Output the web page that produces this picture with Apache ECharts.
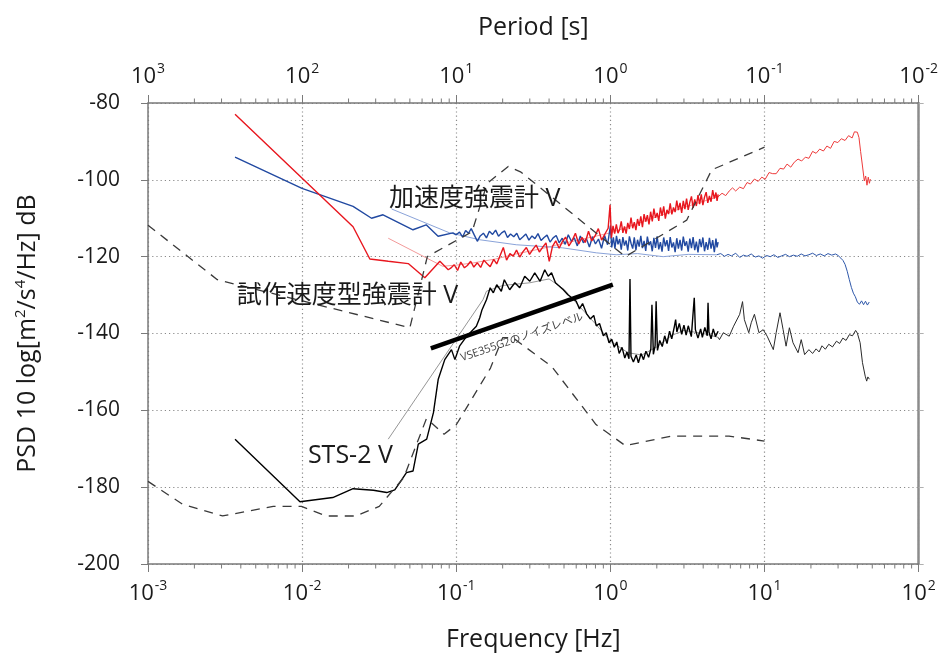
<!DOCTYPE html>
<html>
<head>
<meta charset="utf-8">
<script src="https://cdn.jsdelivr.net/npm/echarts@6/dist/echarts.min.js"></script>
<style>
html,body{margin:0;padding:0;background:#fff;}
#chart{width:941px;height:657px;}
</style>
</head>
<body>
<div id="chart"></div>
<script>
// ---------------- DATA (frequency [Hz], PSD dB) ----------------
const freqMin = 1e-3, freqMax = 1e2;
const periodMin = 1e-2, periodMax = 1e3;
const dbMin = -200, dbMax = -80, dbStep = 20;

// Peterson high noise model (upper dashed)
const nhnm = [[0.001,-111.8],[0.002818,-126.0],[0.05,-138.5],[0.0649,-120.0],[0.1266,-113.5],[0.1587,-100.9],[0.2174,-96.5],[0.2632,-98.0],[1.25,-120.0],[3.125,-110.5],[4.545,-97.4],[10,-91.5]];
// Peterson low noise model (lower dashed)
const nlnm = [[0.001,-178.5],[0.001667,-184.4],[0.003049,-187.5],[0.006494,-185.0],[0.0099,-185.0],[0.01429,-187.5],[0.02222,-187.5],[0.03165,-185.0],[0.04566,-177.5],[0.0641,-162.1],[0.0833,-166.2],[0.1,-163.75],[0.1667,-149.0],[0.2,-141.1],[0.2326,-141.1],[0.4167,-148.6],[0.8065,-163.7],[1.25,-169.2],[2.5,-166.7],[5.882,-166.7],[10,-168.0]];

// 試作速度型強震計 V (red)
const redDark = [[0.00367,-82.9],[0.0214,-112.2],[0.0275,-120.6],[0.0362,-121.2],[0.0488,-121.8],[0.0625,-125.5],[0.0783,-121.2],[0.0887,-123.4],
[0.092,-123.0],[0.097,-122.1],[0.102,-123.6],[0.107,-121.4],[0.113,-122.9],[0.118,-122.3],[0.124,-121.2],[0.130,-122.7],[0.137,-121.6],[0.144,-122.8],[0.151,-120.9],[0.158,-121.8],[0.166,-122.6],[0.175,-120.7],[0.183,-121.9],[0.192,-119.8],[0.202,-117.6],[0.212,-120.9],[0.223,-119.2],[0.234,-119.9],[0.246,-118.3],[0.258,-120.1],[0.271,-118.7],[0.285,-117.6],[0.299,-119.4],[0.314,-118.1],[0.33,-117.0],[0.346,-118.8],[0.364,-117.5],[0.382,-116.4],[0.401,-121.2],[0.421,-117.3],[0.442,-115.9],[0.465,-117.8],[0.488,-116.1],[0.512,-114.9],[0.538,-117.2],[0.565,-115.8],[0.593,-113.9],[0.623,-116.7],[0.654,-115.0],[0.687,-116.3],[0.721,-113.4],[0.757,-115.9],[0.795,-114.6],[0.835,-112.7],[0.877,-115.7],[0.921,-114.1],[0.967,-112.6],[0.995,-106.5],
[1.015,-115.1],[1.04,-112.0],[1.066,-114.0],[1.093,-111.6],[1.12,-113.9],[1.148,-112.9],[1.176,-110.8],[1.205,-113.8],[1.234,-112.1],[1.265,-114.0],[1.296,-111.2],[1.328,-112.8],[1.361,-109.8],[1.395,-112.6],[1.429,-111.0],[1.464,-113.1],[1.5,-110.2],[1.537,-112.0],[1.575,-109.5],[1.614,-112.3],[1.654,-108.9],[1.695,-110.9],[1.737,-109.2],[1.78,-111.6],[1.824,-108.3],[1.869,-110.8],[1.915,-107.5],[1.962,-109.9],[2.011,-108.6],[2.06,-110.7],[2.111,-107.2],[2.163,-109.4],[2.217,-106.9],[2.272,-110.1],[2.328,-107.8],[2.385,-108.9],[2.444,-106.1],[2.504,-109.0],[2.566,-107.2],[2.63,-108.4],[2.695,-105.4],[2.761,-107.9],[2.83,-106.0],[2.9,-108.6],[2.971,-105.5],[3.044,-107.6],[3.12,-104.9],[3.197,-107.8],[3.276,-105.8],[3.357,-104.3],[3.44,-107.3],[3.525,-105.1],[3.612,-106.8],[3.701,-104.0],[3.792,-106.3],[3.886,-103.8],[3.982,-106.6],[4.08,-104.5],[4.181,-103.2],[4.284,-106.0],[4.39,-104.2],[4.498,-105.7],[4.61,-102.7],[4.724,-104.9],[4.84,-103.3],[4.92,-105.5],[5.0,-103.8]];
const redSmooth = [[0.0362,-115.2],[0.0816,-122.5],[0.1,-122.2],[0.13,-121.6],[0.18,-120.6],[0.25,-119.2],[0.35,-118.0],[0.5,-116.5],[0.7,-115.2],[1.0,-113.8],[1.4,-111.8],[2.0,-109.6],[3.0,-107.2],[4.0,-105.6],[5.0,-104.4]];
const redHigh = [[5.0,-104.4],[5.3,-103.5],[5.6,-104.1],[5.9,-102.9],[6.2,-102.1],[6.5,-102.9],[6.9,-101.9],[7.3,-102.3],[7.7,-100.7],[8.1,-101.1],[8.6,-99.8],[9.1,-100.4],[9.6,-99.3],[10.1,-99.85],[10.7,-98.1],[11.3,-98.4],[11.9,-98.4],[12.6,-97.0],[13.3,-97.2],[14.0,-95.9],[14.8,-96.7],[15.6,-95.4],[16.5,-94.6],[17.4,-95.1],[18.4,-94.1],[19.4,-94.4],[20.5,-92.6],[21.6,-93.1],[22.8,-92.0],[24.1,-92.5],[25.4,-91.2],[26.8,-91.8],[28.3,-90.0],[29.9,-90.3],[31.5,-89.3],[33.3,-89.75],[35.1,-88.5],[37.0,-89.1],[38.3,-87.5],[39.3,-88.0],[40.0,-87.6],[41.0,-89.0],[42.0,-92.6],[43.2,-96.4],[44.4,-100.3],[45.3,-99.0],[46.2,-101.4],[47.1,-99.3],[47.9,-100.9],[48.6,-99.8]];

// 加速度強震計 V (blue)
const blueDark = [[0.00367,-94.1],[0.00998,-102.2],[0.0214,-106.9],[0.0282,-110.0],[0.0335,-109.1],[0.0524,-113.0],[0.0638,-111.7],[0.0762,-114.7],[0.0951,-113.8],
[0.1,-114.3],[0.105,-113.6],[0.11,-114.9],[0.115,-113.2],[0.12,-113.9],[0.125,-112.7],[0.131,-114.4],[0.137,-116.0],[0.143,-114.6],[0.15,-113.9],[0.157,-115.1],[0.164,-113.4],[0.172,-114.2],[0.18,-113.1],[0.188,-114.7],[0.197,-113.8],[0.206,-113.3],[0.215,-115.0],[0.225,-114.1],[0.236,-114.8],[0.247,-113.9],[0.258,-115.6],[0.27,-114.9],[0.283,-114.1],[0.296,-115.7],[0.31,-114.6],[0.324,-115.3],[0.339,-114.0],[0.355,-115.8],[0.371,-115.0],[0.388,-114.4],[0.406,-116.2],[0.425,-115.1],[0.445,-114.5],[0.465,-116.4],[0.487,-115.2],[0.509,-116.8],[0.533,-114.3],[0.558,-116.0],[0.583,-115.1],[0.61,-117.2],[0.638,-114.6],[0.668,-116.4],[0.699,-115.3],[0.731,-117.5],[0.765,-114.8],[0.8,-116.7],[0.837,-115.4],[0.876,-117.8],[0.917,-114.5],[0.959,-116.9],[1.0,-112.0],[1.02,-117.6],
[1.045,-115.0],[1.07,-117.9],[1.095,-114.6],[1.12,-116.8],[1.148,-115.4],[1.176,-118.2],[1.205,-114.9],[1.234,-117.1],[1.265,-115.8],[1.296,-118.4],[1.328,-114.7],[1.361,-116.5],[1.395,-117.9],[1.429,-115.0],[1.464,-118.3],[1.5,-115.6],[1.537,-117.4],[1.575,-114.6],[1.614,-117.8],[1.654,-115.9],[1.695,-118.5],[1.737,-114.8],[1.78,-117.0],[1.824,-116.0],[1.869,-118.6],[1.915,-115.1],[1.962,-117.7],[2.011,-114.7],[2.06,-118.1],[2.111,-116.2],[2.163,-118.7],[2.217,-115.0],[2.272,-117.3],[2.328,-115.7],[2.385,-118.5],[2.444,-114.9],[2.504,-117.6],[2.566,-116.3],[2.63,-118.8],[2.695,-115.2],[2.761,-117.9],[2.83,-115.6],[2.9,-118.4],[2.971,-114.8],[3.044,-117.2],[3.12,-116.0],[3.197,-118.7],[3.276,-115.3],[3.357,-117.8],[3.44,-114.9],[3.525,-118.3],[3.612,-116.1],[3.701,-118.9],[3.792,-115.4],[3.886,-117.5],[3.982,-115.0],[4.08,-118.6],[4.181,-116.2],[4.284,-118.2],[4.39,-115.1],[4.498,-117.9],[4.61,-115.7],[4.724,-118.8],[4.84,-115.3],[4.92,-117.6],[5.0,-116.2]];
const blueSmooth = [[0.0381,-107.6],[0.0905,-113.8],[0.142,-115.6],[0.245,-116.9],[0.49,-117.7],[0.81,-119.0],[1.09,-119.5],[1.5,-119.2],[2.2,-120.0],[3.2,-119.4],[4.9,-119.5]];
const blueHigh = [[4.9,-119.5],[5.2,-119.2],[5.5,-119.9],[5.8,-119.4],[6.1,-119.8],[6.5,-119.1],[6.9,-120.2],[7.3,-119.6],[7.7,-119.9],[8.2,-119.3],[8.7,-120.1],[9.2,-119.8],[9.7,-120.4],[10.3,-119.7],[10.9,-120.0],[11.5,-119.5],[12.2,-120.2],[12.9,-119.8],[13.7,-119.4],[14.5,-120.0],[15.4,-119.6],[16.3,-119.9],[17.3,-119.3],[18.3,-119.8],[19.4,-119.5],[20.5,-119.1],[21.7,-119.7],[23.0,-119.3],[24.4,-119.8],[25.8,-119.2],[27.3,-119.6],[28.9,-119.3],[30.0,-119.7],[31.3,-120.4],[32.3,-121.0],[33.3,-122.0],[34.4,-123.8],[35.5,-126.0],[36.6,-128.0],[37.7,-129.5],[38.8,-130.4],[40.0,-131.8],[41.3,-132.4],[42.6,-131.5],[43.9,-132.5],[45.2,-131.6],[46.5,-132.6],[47.8,-131.8]];

// STS-2 V (black)
const blackDark = [[0.00367,-167.5],[0.00968,-183.8],[0.0158,-182.7],[0.0214,-180.4],[0.029,-180.8],[0.0354,-181.4],[0.0399,-180.7],[0.043,-178.8],[0.0475,-176.2],[0.0524,-175.8],[0.0567,-168.8],[0.0643,-167.5],[0.0711,-160.6],[0.0764,-151.9],[0.0842,-146.8],[0.0931,-144.2],[0.098,-146.8],[0.105,-143.3],[0.117,-140.7],[0.135,-138.1],[0.142,-135.9],[0.147,-133.8],[0.157,-131.2],[0.166,-128.1],[0.174,-129.4],[0.183,-127.3],[0.196,-129.0],[0.205,-126.0],[0.222,-128.6],[0.24,-126.8],[0.258,-128.1],[0.278,-125.1],[0.30,-126.4],[0.323,-124.2],[0.35,-126.4],[0.375,-123.4],[0.395,-125.1],[0.415,-124.2],[0.44,-126.8],[0.495,-128.6],[0.53,-129.9],[0.6,-131.6],
[0.63,-133.6],[0.66,-132.2],[0.7,-134.8],[0.74,-136.2],[0.78,-135.3],[0.81,-138.0],[0.85,-137.4],[0.9,-140.6],[0.94,-139.8],[0.98,-142.4],[1.02,-141.5],[1.06,-143.6],[1.1,-142.2],[1.14,-145.2],[1.19,-143.6],[1.24,-146.4],[1.28,-144.8],[1.32,-146.6],[1.34,-125.8],[1.36,-145.9],[1.41,-147.4],[1.47,-145.6],[1.52,-147.6],[1.58,-145.2],[1.64,-146.8],[1.7,-144.6],[1.77,-146.2],[1.83,-144.0],[1.86,-132.5],[1.9,-145.4],[1.95,-143.2],[1.98,-131.6],[2.02,-144.4],[2.09,-141.8],[2.17,-143.4],[2.25,-140.6],[2.33,-142.6],[2.42,-139.4],[2.5,-141.4],[2.6,-138.2],[2.65,-136.4],[2.7,-139.6],[2.8,-137.4],[2.9,-140.2],[3.0,-137.8],[3.1,-140.4],[3.2,-138.0],[3.35,-140.8],[3.5,-130.7],[3.56,-139.0],[3.7,-141.2],[3.85,-138.8],[3.95,-141.0],[4.1,-138.4],[4.25,-140.6],[4.3,-132.0],[4.36,-139.6],[4.5,-141.4],[4.65,-138.8],[4.8,-140.8],[5.0,-139.4]];
const blackSmooth = [[0.0362,-167.5],[0.149,-131.2],[0.157,-129.0],[0.2,-127.5],[0.3,-126.8],[0.4,-125.8],[0.5,-128.5],[0.6,-132.0],[0.8,-137.5],[1.0,-142.0],[1.3,-145.0],[1.6,-145.6],[2.0,-143.5],[2.5,-140.5],[3.0,-139.2],[4.0,-140.0],[5.0,-141.0]];
const blackHigh = [[5.0,-141.0],[5.1,-141.6],[5.4,-139.8],[5.9,-140.7],[6.3,-138.1],[6.9,-135.0],[7.2,-131.7],[7.4,-136.4],[7.9,-139.8],[8.2,-137.2],[8.6,-135.0],[9.2,-139.8],[9.8,-139.0],[10.4,-140.7],[11.4,-144.2],[11.9,-139.8],[12.6,-134.6],[13.2,-139.0],[13.8,-143.3],[14.5,-138.5],[15.3,-142.4],[16.5,-145.0],[17.3,-141.6],[18.2,-145.5],[19.4,-144.2],[20.5,-145.2],[21.6,-144.0],[22.6,-144.8],[23.6,-143.2],[24.8,-144.1],[26.1,-142.8],[27.6,-143.5],[29.3,-142.0],[30.7,-142.6],[32.2,-141.2],[33.8,-141.8],[35.5,-140.3],[37.2,-140.6],[39.0,-139.2],[40.0,-139.9],[41.7,-142.4],[43.2,-147.6],[45.0,-151.1],[46.0,-152.4],[46.8,-151.3],[47.9,-151.9]];

// VSE355G2 noise level (thick line)
const vseLine = [[0.0684,-143.9],[1.037,-127.3]];

// Annotations: [text, freq, dB]
const labels = [
  ['加速度強震計 V', 0.0366, -104.9],
  ['試作速度型強震計 V', 0.00376, -130.1],
  ['STS-2 V', 0.0109, -171.9]
];
const vseLabel = ['VSE355G2のノイズレベル', 0.2547, -141.0];

// ---------------- CHART ----------------
const FONT = '"Open Sans","Noto Sans CJK JP",sans-serif';
const TXT = '#1a1a1a';
const AX = '#7a7a7a';

function powFmt(v){
  const e = Math.round(Math.log10(v));
  return '{b|10}{s|' + e + '}';
}
const powRich = {
  b:{fontSize:22, fontFamily:FONT, color:TXT, lineHeight:26, verticalAlign:'bottom'},
  s:{fontSize:14, fontFamily:FONT, color:TXT, lineHeight:26, verticalAlign:'top', padding:[0,0,0,1]}
};

// minor tick positions (2..9 within each decade)
const minorTicks = [];
for (let e = -3; e < 2; e++) for (let k = 2; k <= 9; k++) minorTicks.push([k * Math.pow(10, e)]);

const dotted = {color:'#8a8a8a', type:[1.2,3], width:1.2};

function lineSeries(data, color, width, z, extra){
  return Object.assign({
    type:'line', data:data, xAxisIndex:0, yAxisIndex:0, showSymbol:false, symbol:'none',
    lineStyle:{color:color, width:width}, z:z, silent:true, sampling:null, animation:false
  }, extra || {});
}

const chart = echarts.init(document.getElementById('chart'), null, {renderer:'canvas'});
const option = {
  animation:false,
  backgroundColor:'#ffffff',
  grid:{left:148, right:22, top:103, bottom:92, containLabel:false},
  xAxis:[
    {type:'log', logBase:10, min:freqMin, max:freqMax, position:'bottom', splitNumber:5,
     name:'Frequency [Hz]', nameLocation:'middle', nameGap:63,
     nameTextStyle:{fontSize:25, color:TXT, fontFamily:FONT},
     axisLine:{show:true, onZero:false, lineStyle:{color:AX, width:1.5}},
     axisTick:{show:true, inside:false, length:8, lineStyle:{color:AX, width:1}},
     axisLabel:{show:true, margin:15, formatter:powFmt, rich:powRich},
     splitLine:{show:true, lineStyle:dotted}, minorTick:{show:false}},
    {type:'log', logBase:10, min:periodMin, max:periodMax, inverse:true, position:'top', splitNumber:5,
     name:'Period [s]', nameLocation:'middle', nameGap:63,
     nameTextStyle:{fontSize:25, color:TXT, fontFamily:FONT},
     axisLine:{show:true, onZero:false, lineStyle:{color:AX, width:1.5}},
     axisTick:{show:true, inside:false, length:8, lineStyle:{color:AX, width:1}},
     axisLabel:{show:true, margin:15, formatter:powFmt, rich:powRich},
     splitLine:{show:false}, minorTick:{show:false}}
  ],
  yAxis:[
    {type:'value', min:dbMin, max:dbMax, interval:dbStep, position:'left',
     name:'PSD 10 log[m{s|2}/s{s|4}/Hz] dB', nameLocation:'middle', nameGap:105, nameRotate:90,
     nameTextStyle:{fontSize:25, color:TXT, fontFamily:FONT,
       rich:{s:{fontSize:15, fontFamily:FONT, color:TXT, verticalAlign:'top', lineHeight:30}}},
     axisLine:{show:true, onZero:false, lineStyle:{color:AX, width:1.5}},
     axisTick:{show:true, inside:false, length:7, lineStyle:{color:AX, width:1}},
     axisLabel:{show:true, margin:28, fontSize:21, color:TXT, fontFamily:FONT},
     splitLine:{show:true, lineStyle:dotted}},
    {type:'value', min:dbMin, max:dbMax, interval:dbStep, position:'right',
     axisLine:{show:true, onZero:false, lineStyle:{color:'#8c8c8c', width:2.5}},
     axisTick:{show:true, inside:false, length:5, lineStyle:{color:'#b0b0b0', width:1}},
     axisLabel:{show:false}, splitLine:{show:false}}
  ],
  series:[
    // minor ticks on bottom and top axes
    {type:'custom', xAxisIndex:0, yAxisIndex:0, data:minorTicks, clip:false, silent:true, z:1,
     encode:{x:0},
     renderItem:function(params, api){
       const b = api.coord([api.value(0), dbMin]);
       const t = api.coord([api.value(0), dbMax]);
       return {type:'group', children:[
         {type:'line', shape:{x1:b[0], y1:b[1], x2:b[0], y2:b[1]+4.5}, style:{stroke:AX, lineWidth:1}},
         {type:'line', shape:{x1:t[0], y1:t[1], x2:t[0], y2:t[1]-4.5}, style:{stroke:AX, lineWidth:1}}
       ]};
     }},
    lineSeries(redSmooth, '#f39a9a', 1, 3),
    lineSeries(blueSmooth, '#8aa3d9', 1, 3),
    lineSeries(blackSmooth, '#8a8a8a', 0.9, 3),
    lineSeries(redHigh, '#ee3b3b', 1, 4),
    lineSeries(blueHigh, '#2f58aa', 1, 4),
    lineSeries(blackHigh, '#2a2a2a', 1, 4),
    lineSeries(blueDark, '#2149a1', 1.4, 5),
    lineSeries(redDark, '#e8161e', 1.4, 6),
    lineSeries(blackDark, '#000000', 1.4, 6),
    lineSeries(nhnm, '#3a3a3a', 1.3, 7, {lineStyle:{color:'#3a3a3a', width:1.3, type:[9,7]}}),
    lineSeries(nlnm, '#3a3a3a', 1.3, 7, {lineStyle:{color:'#3a3a3a', width:1.3, type:[9,7]}}),
    lineSeries(vseLine, '#000000', 4.5, 8)
  ]
};
chart.setOption(option);

// annotations placed at data coordinates
const g = [];
labels.forEach(function(l){
  const p = chart.convertToPixel({xAxisIndex:0, yAxisIndex:0}, [l[1], l[2]]);
  g.push({type:'text', x:p[0], y:p[1], z:20, silent:true,
    style:{text:l[0], fill:TXT, fontSize:25, fontFamily:FONT, textAlign:'left', textVerticalAlign:'middle'}});
});
const pv = chart.convertToPixel({xAxisIndex:0, yAxisIndex:0}, [vseLabel[1], vseLabel[2]]);
g.push({type:'text', x:pv[0] + 3, y:pv[1], rotation:19*Math.PI/180, z:20, silent:true,
  style:{text:vseLabel[0], fill:'#444', fontSize:11, fontFamily:FONT, textAlign:'center', textVerticalAlign:'middle'}});
chart.setOption({graphic:g});
</script>
</body>
</html>
